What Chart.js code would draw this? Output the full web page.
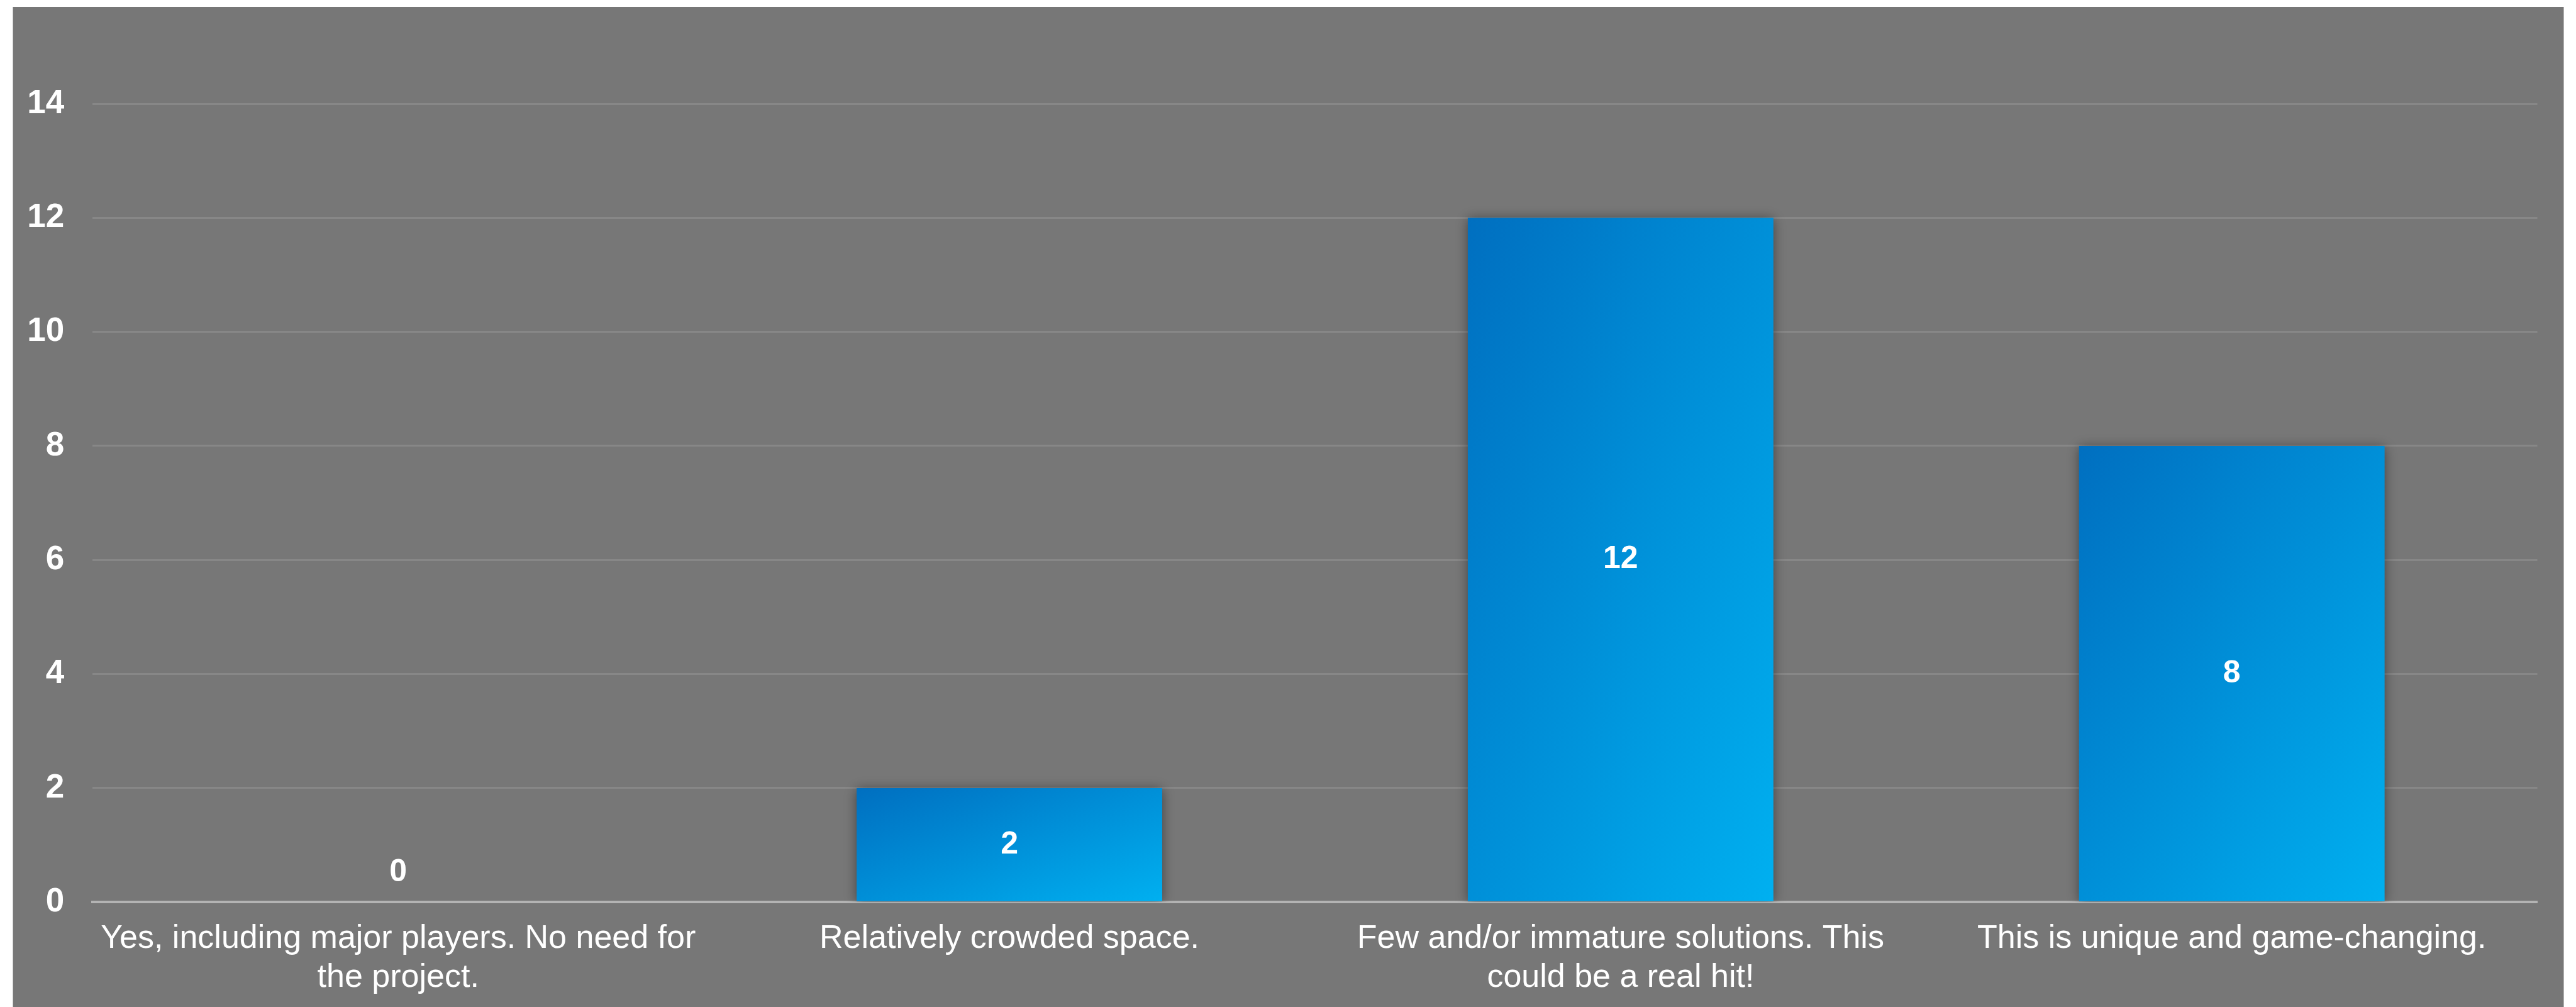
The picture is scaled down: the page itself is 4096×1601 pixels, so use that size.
<!DOCTYPE html>
<html>
<head>
<meta charset="utf-8">
<style>
  html, body { margin: 0; padding: 0; background: #ffffff; }
  #wrap { width: 4096px; height: 1601px; }
</style>
<script src="https://cdn.jsdelivr.net/npm/chart.js@4/dist/chart.umd.min.js"></script>
</head>
<body>
<div id="wrap"><canvas id="answersChart" width="4096" height="1601"></canvas></div>
<script>
const categories = [
  ["Yes, including major players. No need for", "the project."],
  ["Relatively crowded space."],
  ["Few and/or immature solutions. This", "could be a real hit!"],
  ["This is unique and game-changing."]
];
const answers = [0, 2, 12, 8];
const yTicks = [0, 2, 4, 6, 8, 10, 12, 14];

const FONT = "'Liberation Sans', Arial, sans-serif";

// diagonal blue fill, dark top-left to light bottom-right, per bar
function barFill(c) {
  const chart = c.chart;
  const fallback = "#0090d8";
  if (!chart.chartArea) return fallback;
  const xs = chart.scales.x, ys = chart.scales.y;
  const i = c.dataIndex;
  const w = (xs.width / categories.length) * 0.5;
  const x0 = xs.getPixelForValue(i) - w / 2;
  const y0 = ys.getPixelForValue(answers[i]);
  const h = ys.getPixelForValue(0) - y0;
  if (h < 1) return fallback;
  const d = h * h + w * w;
  const g = chart.ctx.createLinearGradient(x0, y0, x0 + 2 * w * h * h / d, y0 + 2 * w * w * h / d);
  g.addColorStop(0, "#006fc0");
  g.addColorStop(1, "#00b0f0");
  return g;
}

const panel = {
  id: "panel",
  beforeDraw(chart) {
    const ctx = chart.ctx;
    ctx.save();
    ctx.fillStyle = "#777777";
    ctx.fillRect(20.5, 11, 4056, 1590);
    ctx.restore();
  },
  beforeDatasetsDraw(chart) {
    const ctx = chart.ctx;
    ctx.save();
    ctx.shadowColor = "rgba(0,0,0,0.45)";
    ctx.shadowBlur = 18;
    ctx.shadowOffsetX = 0;
    ctx.shadowOffsetY = 2;
  },
  afterDatasetsDraw(chart) {
    const ctx = chart.ctx;
    ctx.restore();
    const meta = chart.getDatasetMeta(0);
    ctx.save();
    ctx.fillStyle = "#ffffff";
    ctx.font = "bold 50px " + FONT;
    ctx.textAlign = "center";
    ctx.textBaseline = "middle";
    meta.data.forEach((bar, i) => {
      const y = answers[i] > 0 ? (bar.y + bar.base) / 2 : bar.base - 47;
      ctx.fillText(String(answers[i]), bar.x, y);
    });
    ctx.restore();
  }
};

new Chart(document.getElementById("answersChart"), {
  type: "bar",
  data: {
    labels: categories,
    datasets: [{
      data: answers,
      backgroundColor: barFill,
      borderWidth: 0,
      categoryPercentage: 1.0,
      barPercentage: 0.5
    }]
  },
  options: {
    responsive: false,
    animation: false,
    devicePixelRatio: 1,
    layout: { padding: { top: 165, right: 61.4, bottom: 0, left: 0 } },
    plugins: {
      legend: { display: false },
      tooltip: { enabled: false }
    },
    scales: {
      x: {
        grid: { display: false, drawTicks: false },
        border: { display: true, color: "#b3b3b3", width: 4 },
        ticks: {
          color: "#ffffff",
          font: { family: FONT, size: 52, lineHeight: 1.18 },
          padding: 28,
          maxRotation: 0,
          autoSkip: false
        },
        afterFit(scale) { scale.height = 166.7; }
      },
      y: {
        min: 0,
        max: 14,
        afterBuildTicks(scale) { scale.ticks = yTicks.map(v => ({ value: v })); },
        grid: {
          color: c => c.tick && c.tick.value === 0 ? "rgba(0,0,0,0)" : "#878787",
          lineWidth: 3,
          drawTicks: false
        },
        border: { display: false },
        ticks: {
          color: "#ffffff",
          font: { family: FONT, size: 53, weight: "bold" },
          padding: 45
        },
        afterFit(scale) { scale.width = 147.3; }
      }
    }
  },
  plugins: [panel]
});
</script>
</body>
</html>
